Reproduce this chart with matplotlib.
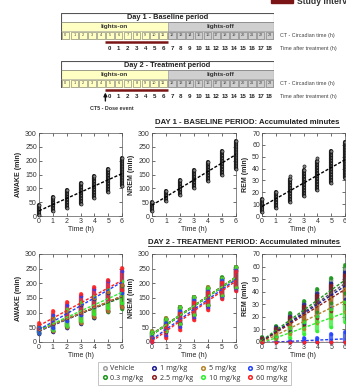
import numpy as np
import matplotlib.pyplot as plt
from matplotlib.patches import Rectangle
from matplotlib.lines import Line2D

plt.rcParams['font.family'] = ['Liberation Sans', 'DejaVu Sans']

# ---- timeline data
CT_HOURS = list(range(24))
LIGHTS_SWITCH = 12          # CT hour when lights go off
STUDY_START, STUDY_END = 5, 12
AFTER_TREATMENT = list(range(19))

TIME_H = [0, 1, 2, 3, 4, 5, 6]

# ---- day 1 (baseline): column ranges at each hour
D1_AWAKE_LO = [5, 18, 30, 45, 65, 85, 110]
D1_AWAKE_HI = [38, 68, 95, 120, 145, 170, 210]
D1_NREM_LO = [18, 55, 75, 100, 125, 150, 170]
D1_NREM_HI = [50, 90, 130, 165, 195, 235, 270]
D1_REM_LO = [3, 7, 12, 17, 22, 28, 32]
D1_REM_HI = [14, 20, 31, 39, 46, 55, 62]
D1_REM_OUT_T = [2, 3, 4]
D1_REM_OUT = [34, 42, 49]

# ---- day 2 (treatment)
GROUPS = ['Vehicle', '0.3 mg/kg', '1 mg/kg', '2.5 mg/kg',
          '5 mg/kg', '10 mg/kg', '30 mg/kg', '60 mg/kg']
COLORS = ['#a0a0a0', '#1a961a', '#1c1c94', '#8e1e1e',
          '#b8822a', '#2cf02c', '#2040ff', '#ff2020']
LINE_COLORS = ['#555555', '#1a961a', '#1c1c94', '#8e1e1e',
               '#b8822a', '#2cf02c', '#2040ff', '#ff2020']

D2_AWAKE = [
    [40, 58, 77, 97, 116, 135, 155],
    [42, 60, 78, 96, 115, 134, 152],
    [38, 57, 76, 95, 115, 136, 157],
    [41, 59, 79, 98, 118, 137, 156],
    [40, 58, 78, 97, 117, 137, 158],
    [42, 63, 84, 105, 126, 148, 170],
    [40, 70, 98, 125, 150, 175, 205],
    [55, 82, 110, 132, 155, 180, 215],
]
D2_AWAKE_SPREAD = [10, 22, 28, 32, 32, 32, 38]

D2_NREM = [
    [25, 58, 90, 122, 155, 188, 220],
    [27, 60, 93, 125, 157, 190, 222],
    [24, 57, 90, 122, 154, 187, 219],
    [25, 58, 90, 123, 155, 187, 220],
    [26, 59, 91, 124, 156, 189, 221],
    [25, 58, 90, 122, 155, 187, 220],
    [8, 42, 78, 112, 145, 180, 212],
    [5, 35, 70, 105, 140, 175, 208],
]
D2_NREM_SPREAD = [10, 22, 28, 30, 30, 30, 35]

D2_REM = [
    [1, 8, 16, 23, 31, 39, 47],
    [2, 9, 17, 25, 33, 41, 50],
    [1, 8, 15, 22, 30, 37, 45],
    [1, 7, 14, 21, 28, 35, 42],
    [0, 5, 11, 16, 22, 27, 33],
    [0, 3, 7, 11, 15, 19, 24],
    [0, 0, 0, 1, 1, 2, 3],
    [0, 0, 0, 0, 0, 0, 0],
]
D2_REM_SPREAD = [
    [2, 4, 6, 8, 9, 10, 11],
    [2, 4, 6, 8, 9, 10, 11],
    [2, 4, 6, 8, 9, 10, 11],
    [2, 4, 6, 8, 9, 10, 11],
    [1, 3, 5, 6, 7, 8, 9],
    [1, 2, 4, 5, 6, 7, 8],
    [0, 0, 1, 2, 2, 4, 5],
    [0, 0, 0, 0, 0, 0, 0],
]

W, H = 346, 389
fig = plt.figure(figsize=(W / 100, H / 100), dpi=100)
fig.patch.set_facecolor('white')

def frac(x0, y0, x1, y1):
    # pixel box (top-left origin) -> figure fraction rect
    return [x0 / W, 1 - y1 / H, (x1 - x0) / W, (y1 - y0) / H]

# overlay for page decorations
ov = fig.add_axes([0, 0, 1, 1], zorder=-1)
ov.set_xlim(0, W)
ov.set_ylim(H, 0)
ov.axis('off')
ov.add_patch(Rectangle((271, -3), 22, 6, color='#7b1515'))
ov.text(297, 4, 'Study interval', fontsize=6.2, fontweight='bold', color='#333333', va='baseline')


def draw_timeline(ax, title, dose=False):
    ax.set_xlim(0, 24)
    ax.set_ylim(0, 27)
    ax.axis('off')
    yellow, grey = '#ffffc4', '#cfcfcf'
    ax.add_patch(Rectangle((0, 18), 24, 9, facecolor='white', edgecolor='none'))
    ax.add_patch(Rectangle((0, 0), LIGHTS_SWITCH, 18, facecolor=yellow, edgecolor='none'))
    ax.add_patch(Rectangle((LIGHTS_SWITCH, 0), 24 - LIGHTS_SWITCH, 18, facecolor=grey, edgecolor='none'))
    for h in CT_HOURS:
        ax.add_patch(Rectangle((h + 0.08, 1.2), 0.84, 6.6, facecolor='none',
                               edgecolor='#777777', lw=0.4))
        ax.text(h + 0.5, 4.5, str(h), fontsize=2.8, ha='center', va='center', color='#444444')
    ax.plot([0, 24], [18, 18], color='#777777', lw=0.5)
    ax.plot([0, 24], [9, 9], color='#999999', lw=0.4)
    ax.plot([LIGHTS_SWITCH, LIGHTS_SWITCH], [0, 18], color='#999999', lw=0.4)
    ax.add_patch(Rectangle((0, 0), 24, 27, facecolor='none', edgecolor='#555555', lw=0.8))
    ax.text(12, 22.5, title, fontsize=5.3, fontweight='bold', ha='center', va='center', color='#222222')
    ax.text(LIGHTS_SWITCH / 2, 13.5, 'lights-on', fontsize=4.6, fontweight='bold', ha='center', va='center', color='#333333')
    ax.text((24 + LIGHTS_SWITCH) / 2, 13.5, 'lights-off', fontsize=4.6, fontweight='bold', ha='center', va='center', color='#333333')
    ax.text(24.7, 4.5, 'CT - Circadian time (h)', fontsize=3.9, ha='left', va='center', color='#444444', clip_on=False)
    ax.plot([STUDY_START, STUDY_END], [-2, -2], color='#7b1515', lw=1.8, clip_on=False, solid_capstyle='butt')
    for i, h in enumerate(AFTER_TREATMENT):
        ax.text(STUDY_START + i + 0.5, -8.5, str(h), fontsize=4.4, fontweight='bold',
                ha='center', va='center', color='#222222', clip_on=False)
    ax.text(24.7, -8.5, 'Time after treatment (h)', fontsize=3.9, ha='left', va='center', color='#444444', clip_on=False)
    if dose:
        ax.annotate('', xy=(STUDY_START, -4.5), xytext=(STUDY_START, -13),
                    arrowprops=dict(arrowstyle='-|>', mutation_scale=5, color='#111111', lw=1.0,
                                    shrinkA=0, shrinkB=0),
                    annotation_clip=False)
        ax.text(3.27, -20, 'CT5 - Dose event', fontsize=3.9, fontweight='bold', ha='left', va='center',
                color='#333333', clip_on=False)


draw_timeline(fig.add_axes(frac(61, 13, 274, 40)), 'Day 1 - Baseline period')
draw_timeline(fig.add_axes(frac(61, 61, 274, 88)), 'Day 2 - Treatment period', dose=True)


def style_panel(ax, ymax, ystep, ylabel):
    ax.set_xlim(0, 6)
    ax.set_ylim(0, ymax)
    ax.set_xticks(TIME_H)
    ax.set_yticks(np.arange(0, ymax + 1, ystep))
    ax.tick_params(direction='in', length=2, width=0.5, labelsize=5, pad=1.5,
                   top=True, right=True, colors='#333333')
    for s in ax.spines.values():
        s.set_linewidth(0.5)
        s.set_color('#555555')
    ax.set_xlabel('Time (h)', fontsize=5, labelpad=0.5, color='#222222')
    ax.set_ylabel(ylabel, fontsize=5, fontweight='bold', labelpad=2, color='#222222')


COLS_X = [(39, 122), (152, 236), (262, 345)]
LABELS = ['AWAKE (min)', 'NREM (min)', 'REM (min)']
YMAX = [300, 300, 70]
YSTEP = [50, 50, 10]

# ---- day 1 panels
d1_lo = [D1_AWAKE_LO, D1_NREM_LO, D1_REM_LO]
d1_hi = [D1_AWAKE_HI, D1_NREM_HI, D1_REM_HI]
for k in range(3):
    ax = fig.add_axes(frac(COLS_X[k][0], 133, COLS_X[k][1], 216))
    lo, hi = np.array(d1_lo[k]), np.array(d1_hi[k])
    ax.vlines(TIME_H, lo, hi, color='#1e1e1e', lw=3.0, clip_on=False, capstyle='round')
    ax.vlines(TIME_H, lo, hi, color='#777777', lw=0.8, clip_on=False, linestyles=(0, (1, 1.5)))
    ax.scatter(TIME_H * 2, np.concatenate([lo, hi]), s=5, facecolor='#888888',
               edgecolor='#1e1e1e', lw=0.5, clip_on=False, zorder=3)
    if k == 2:
        ax.scatter(D1_REM_OUT_T, D1_REM_OUT, s=5, facecolor='#888888',
                   edgecolor='#1e1e1e', lw=0.5, zorder=3)
    p = np.polyfit(TIME_H, (lo + hi) / 2, 1)
    ax.plot([0, 6], np.polyval(p, [0, 6]), color='black', lw=1.0, ls=(0, (2.2, 1.3)), zorder=4)
    style_panel(ax, YMAX[k], YSTEP[k], LABELS[k])

# ---- day 2 panels
d2_mean = [D2_AWAKE, D2_NREM, D2_REM]
for k in range(3):
    ax = fig.add_axes(frac(COLS_X[k][0], 254, COLS_X[k][1], 342))
    for g in range(len(GROUPS)):
        m = np.array(d2_mean[k][g])
        sp = np.array(D2_REM_SPREAD[g]) if k == 2 else np.array([D2_AWAKE_SPREAD, D2_NREM_SPREAD][k])
        lo, hi = np.clip(m - sp, 0, None), m + sp
        ax.vlines(TIME_H, lo, hi, color=COLORS[g], lw=3.0, alpha=0.75, clip_on=False, capstyle='round')
        ax.scatter(TIME_H * 2, np.concatenate([lo, hi]), s=5, facecolor=COLORS[g],
                   edgecolor=COLORS[g], lw=0.4, alpha=0.8, clip_on=False, zorder=3)
    for g in range(len(GROUPS)):
        p = np.polyfit(TIME_H, d2_mean[k][g], 1)
        ax.plot([0, 6], np.polyval(p, [0, 6]), color=LINE_COLORS[g], lw=1.0,
                ls=(0, (2.2, 1.3)), zorder=4)
    style_panel(ax, YMAX[k], YSTEP[k], LABELS[k])

# ---- section titles with underline
renderer = fig.canvas.get_renderer()
for x, y, s in [(155, 123, 'DAY 1 - BASELINE PERIOD: Accumulated minutes'),
                (148, 242, 'DAY 2 - TREATMENT PERIOD: Accumulated minutes')]:
    t = fig.text(x / W, 1 - y / H, s, fontsize=5.6, fontweight='bold', va='center', color='#222222')
    bb = t.get_window_extent(renderer)
    fig.add_artist(Line2D([bb.x0 / W, bb.x1 / W], [(bb.y0 - 0.5) / H] * 2,
                          color='#222222', lw=0.6))

# ---- legend
handles = [Line2D([], [], ls='none', marker='o', markersize=2.6, markerfacecolor='none',
                  markeredgecolor=c, markeredgewidth=1.1) for c in COLORS]
leg = fig.legend(handles, GROUPS, ncol=4, loc='center', bbox_to_anchor=(194.5 / W, 1 - 373.5 / H),
                 fontsize=5.2, frameon=True, fancybox=False, edgecolor='#aaaaaa',
                 handlelength=0.8, handletextpad=0.4, columnspacing=1.0, labelspacing=0.35,
                 borderpad=0.5, prop={'family': ['Open Sans', 'DejaVu Sans'], 'size': 5.2})
leg.get_frame().set_linewidth(0.6)
for txt in leg.get_texts():
    txt.set_color('#333333')

fig.savefig('out.png', dpi=100, facecolor='white')
